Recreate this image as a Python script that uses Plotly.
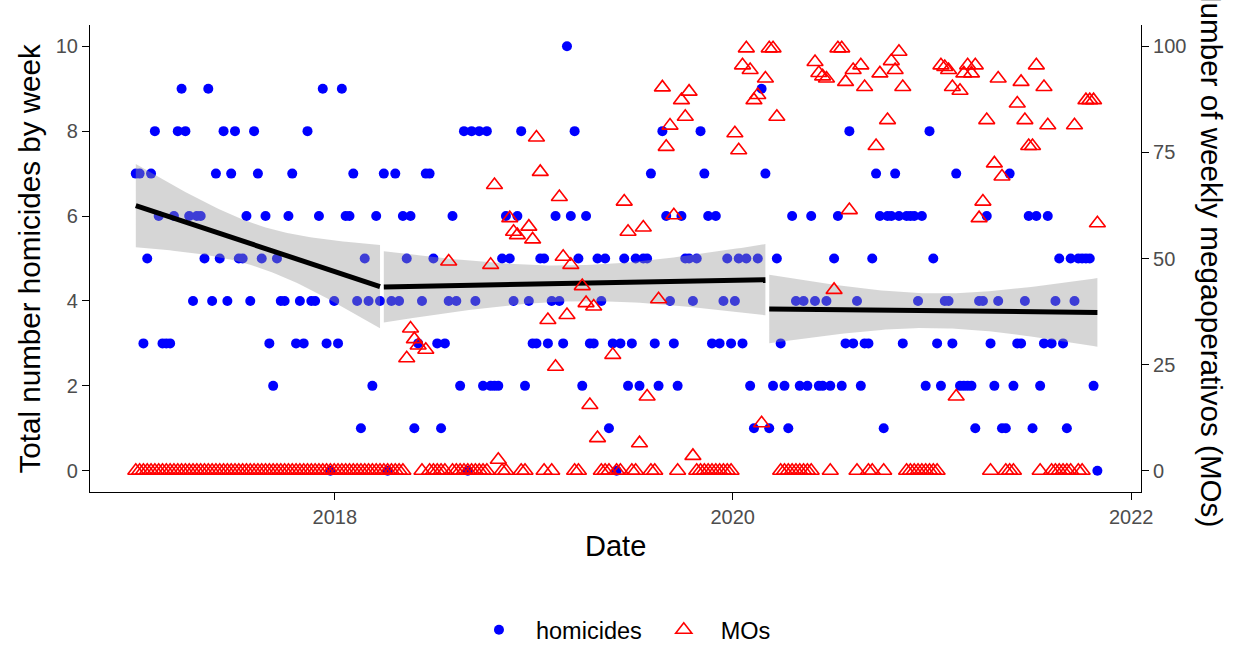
import numpy as np
import pandas as pd
import plotly.graph_objects as go

# ---------------- data ----------------
start_date = "2017-01-01"          # first weekly observation

homicides = [
    7, 7, 3, 5, 7, 8, 6, 3, 3, 3, 6, 8, 9, 8, 6, 4, 6, 6, 5, 9, 4, 7, 5, 8, 4,
    7, 8, 5, 5, 6, 4, 8, 7, 5, 6, 3, 2, 5, 4, 4, 6, 7, 3, 4, 3, 8, 4, 4, 6, 9,
    3, 0, 4, 3, 9, 6, 6, 7, 4, 1, 5, 4, 2, 6, 4, 7, 0, 4, 7, 4, 6, 5, 6, 1,
    3, 4, 7, 7, 5, 3, 1, 3, 4, 6, 4, 2, 8, 0, 8, 4, 8, 2, 8, 2, 2, 2, 5,
    6, 5, 4, 6, 8, 2, 4, 3, 3, 5, 5, 3, 4, 6, 4, 3, 10, 6, 8, 5, 2, 6, 3, 3, 5,
    4, 5, 1, 3, 0, 3, 5, 2, 3, 5, 2, 5, 5, 7, 3, 2, 8, 6, 4, 3, 2, 6, 5, 5, 4,
    5, 8, 7, 6, 3, 6, 3, 4, 5, 3, 4, 5, 3, 5, 2, 1, 5, 9, 7, 1, 2, 5, 3, 2, 1,
    6, 4, 2,
    4, 2, 6, 4, 2, 2, 4, 2, 5, 6, 2, 3, 8, 3, 4, 2, 3, 3, 5, 7, 6, 1, 6,
    6, 7, 6, 3, 6, 6, 6, 4, 6, 2, 8, 5, 3, 2, 4, 4, 3, 7, 2, 2, 2, 2, 1, 4,
    4, 6, 3, 2, 4, 1, 1, 7, 2, 3, 3, 4, 6, 1, 6, 2, 3, 6, 3, 4, 5, 3, 1, 5, 4,
    5, 5, 5, 5, 2, 0,
]

mos = [
    0, 0, 0, 0, 0, 0, 0, 0, 0, 0, 0, 0, 0, 0, 0, 0, 0, 0, 0, 0, 0, 0, 0, 0, 0,
    0, 0, 0, 0, 0, 0, 0, 0, 0, 0, 0, 0, 0, 0, 0, 0, 0, 0, 0, 0, 0, 0, 0, 0, 0,
    0, 0, 0, 0, 0, 0, 0, 0, 0, 0, 0, 0, 0, 0, 0, 0, 0, 0, 0, 0, 0,
    26.5, 33.5, 31, 29.5, 0, 28.5, 0, 0, 0, 0, 0, 49.3,                 # w71-82
    0, 0, 0, 0, 0, 0, 0, 0, 0, 0, 48.5, 67.3, 2.6, 0, 0,                 # w83-97
    59.5, 56.3, 55.5, 0, 0, 57.5, 54.5, 78.5, 70.4, 0, 35.5, 0,          # w98-109
    24.5, 64.5, 50.4, 36.7, 48.5, 0, 0, 43.5, 39.5, 15.5, 38.7, 7.7,     # w110-121
    0, 0, 0, 27.3, 0, 0, 63.4, 56.3, 0, 0, 6.5, 57.3, 17.5, 0, 0,       # w122-136
    40.4, 90.3, 76.3, 81.3, 60.2, 0, 87.3, 83.4, 89.3, 3.5,              # w137-146
    0, 0, 0, 0, 0, 0, 0, 0, 0, 0,                                        # w147-156
    79.5, 75.5, 95.5, 99.5, 94.4, 87.3, 88.5, 11.2, 92.4, 99.5, 99.5, 83.4,  # w157-168
    0, 0, 0, 0, 0, 0, 0, 0, 0,                                           # w169-177
    96.3, 93.7, 92.9, 92.4, 0, 42.6, 99.5, 99.5, 91.6, 61.4, 94.4, 0,    # w178-189
    95.5, 90.4, 0, 0, 76.5, 93.6, 0, 82.6, 96.5, 94.4, 98.7, 90.4,       # w190-201
    0, 0, 0, 0, 0, 0, 0, 0, 0,                                           # w202-210
    95.5, 95.1, 94.4, 90.4, 17.5, 89.5, 93.6, 95.5, 93.6, 95.5,          # w211-220
    59.5, 63.4, 82.6, 0, 72.4, 92.4, 69.3, 0, 0, 0,                      # w221-230
    86.5, 91.6, 82.6, 76.5, 76.5, 95.5, 0, 90.4, 81.4,                   # w231-239
    0, 0, 0, 0, 0, 0, 81.4, 0, 0, 87.3, 87.3, 87.3, 58.3,                # w240-252
]

period_breaks = ["2018-04-01", "2020-03-05"]   # separate linear fits per period

x_tick_dates = ["2018-01-01", "2020-01-01", "2022-01-01"]
x_tick_labels = ["2018", "2020", "2022"]
left_ticks = [0, 2, 4, 6, 8, 10]
right_ticks = [0, 25, 50, 75, 100]

# ---------------- derived ----------------
dates = pd.date_range(start_date, periods=len(homicides), freq="7D")
t0 = pd.Timestamp(start_date)
days = np.asarray((dates - t0).days, dtype=float)
hom = np.asarray(homicides, dtype=float)


def t_quantile(df, z=1.959963984540054):
    g1 = (z**3 + z) / 4
    g2 = (5 * z**5 + 16 * z**3 + 3 * z) / 96
    g3 = (3 * z**7 + 19 * z**5 + 17 * z**3 - 15 * z) / 384
    return z + g1 / df + g2 / df**2 + g3 / df**3


b = [pd.Timestamp(s) for s in period_breaks]
masks = [dates < b[0], (dates >= b[0]) & (dates < b[1]), dates >= b[1]]

fig = go.Figure()

fig.add_trace(go.Scatter(
    x=dates, y=homicides, mode="markers", name="homicides",
    marker=dict(symbol="circle", size=10, color="#0000FF"),
    yaxis="y",
))

# linear fits with 95% confidence bands
for m in masks:
    x = days[m]
    y = hom[m]
    n = len(x)
    xb = x.mean()
    sxx = ((x - xb) ** 2).sum()
    b1 = ((x - xb) * (y - y.mean())).sum() / sxx
    b0 = y.mean() - b1 * xb
    resid = y - (b0 + b1 * x)
    s = np.sqrt((resid ** 2).sum() / (n - 2))
    xg = np.linspace(x.min(), x.max(), 80)
    fit = b0 + b1 * xg
    se = s * np.sqrt(1.0 / n + (xg - xb) ** 2 / sxx)
    tq = t_quantile(n - 2)
    lo, hi = fit - tq * se, fit + tq * se
    gd = t0 + pd.to_timedelta(xg, unit="D")
    fig.add_trace(go.Scatter(
        x=list(gd) + list(gd[::-1]), y=list(hi) + list(lo[::-1]),
        fill="toself", fillcolor="rgba(153,153,153,0.4)",
        line=dict(width=0), mode="lines", showlegend=False, hoverinfo="skip",
    ))
    fig.add_trace(go.Scatter(
        x=gd, y=fit, mode="lines", line=dict(color="black", width=5),
        showlegend=False, hoverinfo="skip",
    ))

fig.add_trace(go.Scatter(
    x=dates, y=mos, mode="markers", name="MOs",
    marker=dict(symbol="triangle-up-open", size=14, color="#FF0000",
                line=dict(width=1.6, color="#FF0000")),
    yaxis="y2",
))

FONT = "Liberation Sans, Arial, Helvetica, sans-serif"
TICKC = "#4D4D4D"
TICKFONT = dict(size=20, color=TICKC, family=FONT)

fig.update_layout(
    width=1236, height=646,
    margin=dict(l=90, r=95, t=25, b=154, autoexpand=False),
    plot_bgcolor="white", paper_bgcolor="white",
    font=dict(family=FONT, color="black"),
    xaxis=dict(
        type="date", range=["2016-10-09", "2022-01-19"],
        tickvals=x_tick_dates, ticktext=x_tick_labels,
        showline=True, linecolor="black", linewidth=1.1,
        ticks="outside", ticklen=7, tickcolor="black", tickwidth=1.1,
        tickfont=TICKFONT, showgrid=False, zeroline=False,
    ),
    yaxis=dict(
        range=[-0.5, 10.5], tickvals=left_ticks,
        showline=True, linecolor="black", linewidth=1.1,
        ticks="outside", ticklen=7, tickcolor="black", tickwidth=1.1,
        tickfont=TICKFONT, showgrid=False, zeroline=False,
    ),
    yaxis2=dict(
        overlaying="y", side="right", range=[-5, 105], tickvals=right_ticks,
        showline=True, linecolor="black", linewidth=1.1,
        ticks="outside", ticklen=7, tickcolor="black", tickwidth=1.1,
        tickfont=TICKFONT, showgrid=False, zeroline=False,
    ),
    legend=dict(
        orientation="h", x=0.5033, xanchor="center", y=-0.2955, yanchor="middle",
        font=dict(size=23.5, family=FONT, color="black"),
        itemwidth=64, bgcolor="rgba(0,0,0,0)",
    ),
    showlegend=True,
    annotations=[
        dict(text="Date", xref="paper", yref="paper", x=0.5, y=-0.1156,
             xanchor="center", yanchor="middle", showarrow=False,
             font=dict(size=29, family=FONT, color="black")),
        dict(text="Total number homicides by week", xref="paper", yref="paper",
             x=-0.0571, y=0.5, xanchor="center", yanchor="middle",
             textangle=-90, showarrow=False,
             font=dict(size=29.6, family=FONT, color="black")),
        dict(text="Number of weekly megaoperativos (MOs)", xref="paper", yref="paper",
             x=1.0676, y=0.509, xanchor="center", yanchor="middle",
             textangle=90, showarrow=False,
             font=dict(size=29.6, family=FONT, color="black")),
    ],
)

fig.write_html("out.html")
